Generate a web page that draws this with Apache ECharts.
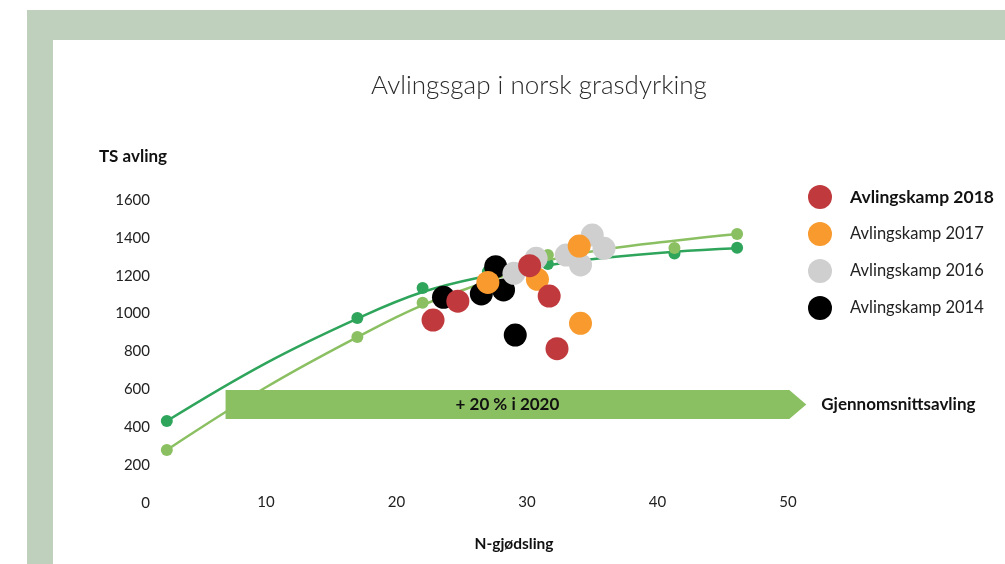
<!DOCTYPE html>
<html>
<head>
<meta charset="utf-8">
<script src="https://cdn.jsdelivr.net/npm/echarts@6/dist/echarts.min.js"></script>
<style>
  html, body { margin: 0; padding: 0; background: #fff; }
  #app { width: 1005px; height: 564px; }
</style>
</head>
<body>
<div id="app"></div>
<script>
// trendlines
var trendX = [2.4, 10, 17, 22, 27, 31.6, 36, 41.3, 46.1];
var trendDark = [433, 739, 974, 1114, 1200, 1255, 1295, 1327, 1345];
var trendLight = [280, 611, 876, 1045, 1170, 1280, 1340, 1385, 1420];

// small dots on the curves
var dotX = [2.4, 17, 22, 27, 31.6, 41.3, 46.1];
var dotDark = [433, 977, 1135, 1221, 1262, 1318, 1348];
var dotLight = [280, 876, 1058, 1175, 1309, 1346, 1420];

// avlingskamp points [N, TS]
var kamp2018 = [[22.8, 966], [24.7, 1066], [30.2, 1253], [31.7, 1093], [32.3, 815]];
var kamp2017 = [[27.0, 1165], [30.8, 1181], [34.0, 1357], [34.1, 949]];
var kamp2016 = [[29.0, 1213], [30.7, 1292], [33.0, 1309], [34.1, 1257], [35.0, 1415], [35.9, 1345]];
var kamp2014 = [[23.6, 1086], [26.5, 1104], [27.6, 1248], [28.2, 1125], [29.1, 887]];

// arrow annotation: x start, shoulder, tip ; y bottom, top
var arrowX = [6.9, 50.1, 51.4];
var arrowY = [444, 597];

var font = "Lato";
var darkGreen = "#2fa55c";
var lightGreen = "#8bc062";

function zip(xs, ys) {
  return xs.map(function (x, i) { return [x, ys[i]]; });
}

function kampSeries(name, data, color) {
  return {
    name: name,
    type: "scatter",
    data: data,
    symbolSize: 23,
    itemStyle: { color: color, opacity: 1 },
    z: 5
  };
}

var chartDom = document.getElementById("app");
var myChart = echarts.init(chartDom);

var option = {
  backgroundColor: "#fff",
  animation: false,
  textStyle: { fontFamily: font },
  grid: { left: 135.5, right: 217, top: 200, bottom: 61 },
  graphic: [
    { type: "rect", z: -100, shape: { x: 27, y: 10, width: 978, height: 554 }, style: { fill: "#bfd1bd" } },
    { type: "rect", z: -99, shape: { x: 53, y: 40, width: 952, height: 524 }, style: { fill: "#fff" } },
    { type: "text", style: { text: "Avlingsgap i norsk grasdyrking", x: 539, y: 86, align: "center", verticalAlign: "middle", fontSize: 26, fontWeight: 300, fontFamily: font, fill: "#2a2a2a" } },
    { type: "text", style: { text: "TS avling", x: 133, y: 157, align: "center", verticalAlign: "middle", fontSize: 17, fontWeight: "bold", fontFamily: font, fill: "#111" } },
    { type: "text", style: { text: "N-gjødsling", x: 514, y: 544, align: "center", verticalAlign: "middle", fontSize: 15.5, fontWeight: "bold", fontFamily: font, fill: "#111" } }
  ],
  legend: {
    orient: "vertical",
    left: 808,
    top: 185,
    padding: 0,
    itemWidth: 24,
    itemHeight: 24,
    itemGap: 13,
    icon: "circle",
    textStyle: { fontSize: 16.5, color: "#222", fontFamily: font, padding: [0, 0, 0, 13] },
    data: [
      { name: "Avlingskamp 2018", textStyle: { fontWeight: "bold", color: "#111", fontSize: 17.5 } },
      "Avlingskamp 2017",
      "Avlingskamp 2016",
      "Avlingskamp 2014"
    ]
  },
  xAxis: {
    type: "value",
    min: 0,
    max: 50,
    interval: 10,
    axisLine: { show: false },
    axisTick: { show: false },
    splitLine: { show: false },
    axisLabel: { showMinLabel: false, margin: -8, fontSize: 15, color: "#222" }
  },
  yAxis: {
    type: "value",
    min: 0,
    max: 1600,
    interval: 200,
    axisLine: { show: false },
    axisTick: { show: false },
    splitLine: { show: false },
    axisLabel: {
      margin: -14.5,
      fontSize: 15,
      color: "#222",
      formatter: function (v) { return String(v); }
    }
  },
  series: [
    {
      type: "line",
      data: zip(trendX, trendDark),
      smooth: 0.4,
      showSymbol: false,
      lineStyle: { color: darkGreen, width: 2.5 },
      z: 2
    },
    {
      type: "line",
      data: zip(trendX, trendLight),
      smooth: 0.4,
      showSymbol: false,
      lineStyle: { color: lightGreen, width: 2.5 },
      z: 2
    },
    {
      type: "scatter",
      data: zip(dotX, dotDark),
      symbolSize: 12,
      itemStyle: { color: darkGreen, opacity: 1 },
      z: 3
    },
    {
      type: "scatter",
      data: zip(dotX, dotLight),
      symbolSize: 12,
      itemStyle: { color: lightGreen, opacity: 1 },
      z: 3
    },
    {
      type: "custom",
      data: [[arrowX[0], arrowY[0]]],
      z: 4,
      renderItem: function (params, api) {
        var bl = api.coord([arrowX[0], arrowY[0]]);
        var tr = api.coord([arrowX[1], arrowY[1]]);
        var tip = api.coord([arrowX[2], (arrowY[0] + arrowY[1]) / 2]);
        var cy = tip[1];
        return {
          type: "group",
          children: [
            {
              type: "polygon",
              shape: {
                points: [
                  [bl[0], tr[1]], [tr[0], tr[1]], [tip[0], cy],
                  [tr[0], bl[1]], [bl[0], bl[1]]
                ]
              },
              style: { fill: lightGreen }
            },
            {
              type: "text",
              style: {
                text: "+ 20 % i 2020",
                x: (bl[0] + tr[0]) / 2,
                y: cy,
                align: "center",
                verticalAlign: "middle",
                fontSize: 17,
                fontWeight: "bold",
                fontFamily: font,
                fill: "#111"
              }
            },
            {
              type: "text",
              style: {
                text: "Gjennomsnittsavling",
                x: tip[0] + 15,
                y: cy,
                align: "left",
                verticalAlign: "middle",
                fontSize: 17,
                fontWeight: "bold",
                fontFamily: font,
                fill: "#111"
              }
            }
          ]
        };
      }
    },
    kampSeries("Avlingskamp 2014", kamp2014, "#000000"),
    kampSeries("Avlingskamp 2016", kamp2016, "#cfcfcf"),
    kampSeries("Avlingskamp 2017", kamp2017, "#f89a2d"),
    kampSeries("Avlingskamp 2018", kamp2018, "#c0393c")
  ]
};

option && myChart.setOption(option);
</script>
</body>
</html>
